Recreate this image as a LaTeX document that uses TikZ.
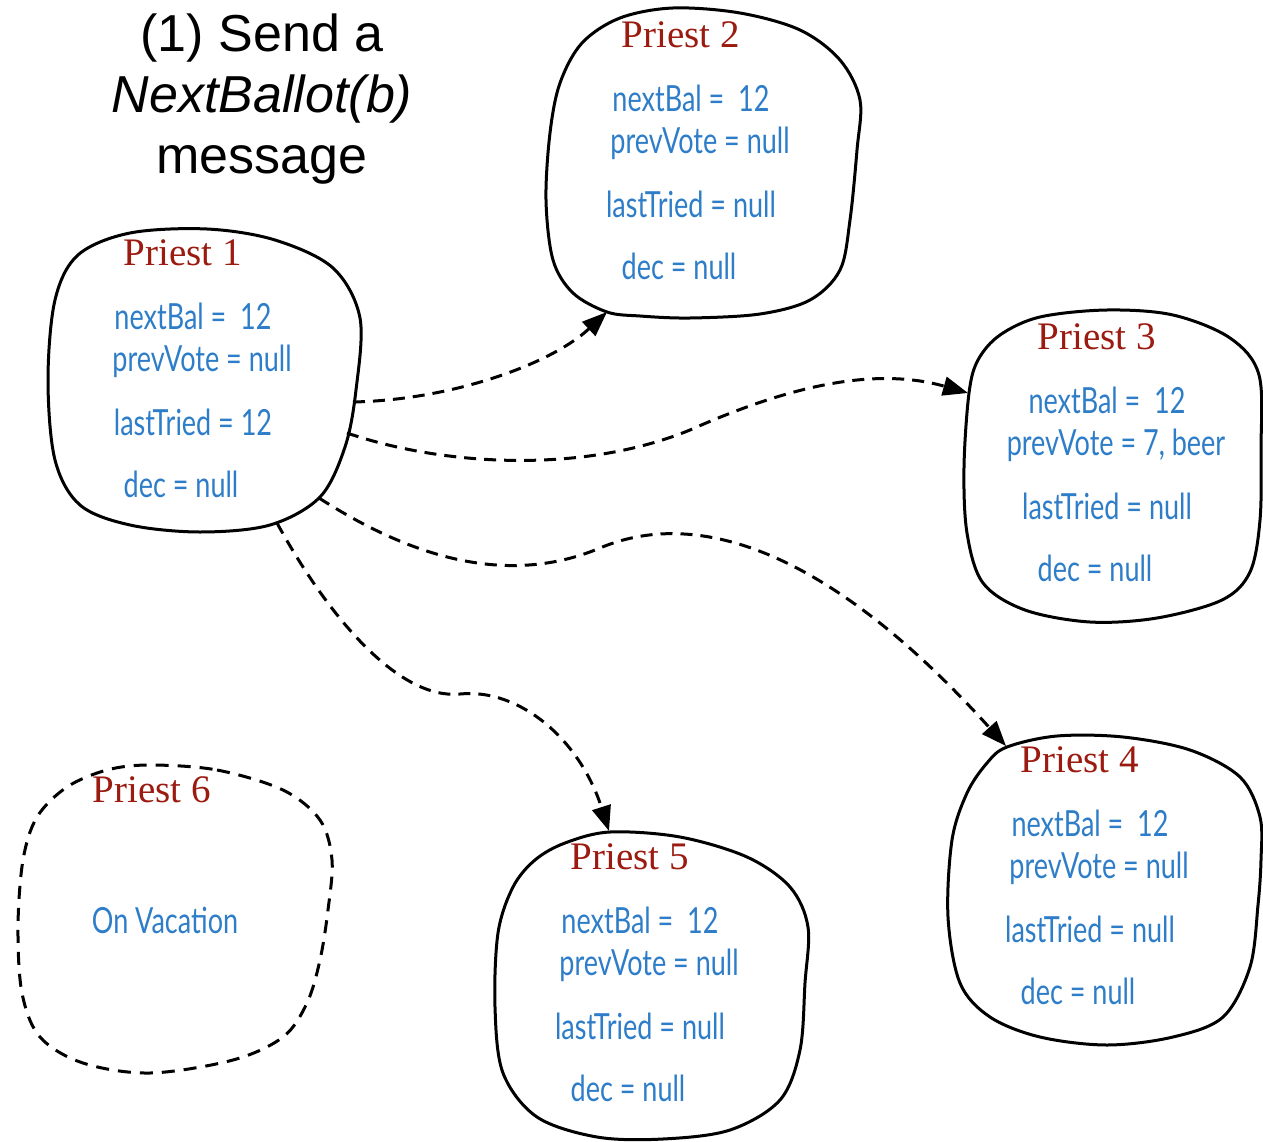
\documentclass[tikz,border=0pt]{standalone}
\usepackage{fontspec}
\usetikzlibrary{arrows.meta}
\newfontfamily\titlefont{Liberation Sans}
\newfontfamily\namefont{Liberation Serif}
\newfontfamily\notefont[FakeStretch=0.75]{Lato}
\definecolor{namered}{RGB}{155,27,16}
\definecolor{noteblue}{RGB}{46,125,200}

\tikzset{
  cardbox/.style={draw=none, minimum width=300pt, minimum height=290pt, inner sep=0pt},
  cardtitle/.style={text=namered, font=\namefont\fontsize{39}{44}\selectfont, inner sep=0pt},
  cardtext/.style={text=noteblue, font=\notefont\fontsize{36}{40}\selectfont, inner sep=0pt},
  blobline/.style={draw=black, line width=3pt, line join=round},
  awayline/.style={blobline, dash pattern=on 13pt off 9pt},
  msg/.style={draw=black, line width=3pt, dash pattern=on 12pt off 8pt,
    -{Triangle[length=25pt,width=19pt]}},
}

% one priest: name, centre, title, four ledger lines
\newcommand{\priestcard}[7]{%
  \node[cardbox] (#1) at (#2) {};
  \begin{scope}[shift={(#2)}]
    \node[cardtitle] (#1-t) at (-22,-128) {#3};
    \node[cardtext] (#1-a) at (-12,-65) {#4};
    \node[cardtext] (#1-b) at (-3,-20) {#5};
    \node[cardtext] (#1-c) at (-12,41) {#6};
    \node[cardtext] (#1-d) at (-24,103) {#7};
  \end{scope}}

\begin{document}
\begin{tikzpicture}[x=1pt,y=-1pt]
\useasboundingbox (0,0) rectangle (1263,1142);
\fill[white] (0,0) rectangle (1263,1142);

% heading
\node[font=\titlefont\fontsize{52}{61}\selectfont, align=center, inner sep=0pt] (head) at (262,99)
  {(1) Send a\\\textit{NextBallot(b)}\\message};

% outlines of the priests
\draw[blobline] plot[smooth cycle, tension=0.55] coordinates {
  (207,229) (275,240) (333,268) (360,318) (356,390) (345,447) (320,497) (270,525)
  (200,532) (130,525) (80,505) (55,460) (48,380) (55,300) (78,255) (130,233)};
\draw[blobline] plot[smooth cycle, tension=0.55] coordinates {
  (673,8) (740,13) (800,30) (840,60) (860,100) (857,150) (850,220) (840,270)
  (810,300) (760,314) (690,318) (640,316) (607,312) (573,293) (553,260) (546,200)
  (550,133) (560,83) (582,43) (620,18)};
\draw[blobline] plot[smooth cycle, tension=0.55] coordinates {
  (1107,310) (1173,315) (1230,338) (1259,375) (1261,450) (1260,520) (1250,572)
  (1222,600) (1157,618) (1090,622) (1025,610) (983,583) (967,533) (964,467)
  (969,393) (978,360) (1000,335) (1040,317)};
\draw[blobline] plot[smooth cycle, tension=0.55] coordinates {
  (1057,736) (1123,737) (1190,750) (1240,777) (1260,817) (1261,860) (1258,905)
  (1250,967) (1223,1017) (1173,1037) (1107,1045) (1040,1037) (990,1017) (960,983)
  (948,917) (952,840) (967,793) (987,763) (1007,747)};
\draw[blobline] plot[smooth cycle, tension=0.55] coordinates {
  (610,832) (680,837) (747,857) (790,887) (808,927) (805,983) (800,1050) (780,1100)
  (730,1130) (663,1139) (597,1137) (537,1117) (503,1073) (495,1007) (498,933)
  (513,887) (535,860) (565,843)};
\draw[awayline] plot[smooth cycle, tension=0.55] coordinates {
  (150,765) (217,770) (283,790) (320,820) (332,860) (328,910) (320,960) (307,1003)
  (283,1037) (233,1060) (150,1073) (83,1063) (40,1037) (22,993) (18,927) (23,860)
  (37,817) (67,787) (107,770)};

% contents
\priestcard{p1}{205,381}{Priest 1}{nextBal =\ \ 12}{prevVote = null}{lastTried = 12}{dec = null}
\priestcard{p2}{703,163}{Priest 2}{nextBal =\ \ 12}{prevVote = null}{lastTried = null}{dec = null}
\priestcard{p3}{1119,465}{Priest 3}{nextBal =\ \ 12}{prevVote = 7, beer}{lastTried = null}{dec = null}
\priestcard{p4}{1102,888}{Priest 4}{nextBal =\ \ 12}{prevVote = null}{lastTried = null}{dec = null}
\priestcard{p5}{652,985}{Priest 5}{nextBal =\ \ 12}{prevVote = null}{lastTried = null}{dec = null}
\node[cardbox] (p6) at (175,920) {};
\node[cardtitle] (p6-t) at (152,790) {Priest 6};
\node[cardtext] (p6-a) at (165,920) {On Vacation};

% ports on the outlines
\coordinate (p1-o1) at (353,402);
\coordinate (p1-o2) at (347,433);
\coordinate (p1-o3) at (319,498);
\coordinate (p1-o4) at (277,523);
\coordinate (p2-in) at (607,312);
\coordinate (p3-in) at (968,393);
\coordinate (p4-in) at (1006,746);
\coordinate (p5-in) at (609,831);

% NextBallot messages
\draw[msg] (p1-o1) .. controls (450,400) and (550,365) .. (p2-in);
\draw[msg] (p1-o2) .. controls (440,465) and (580,475) .. (690,430)
                   .. controls (780,390) and (870,365) .. (p3-in);
\draw[msg] (p1-o3) .. controls (400,550) and (500,590) .. (600,548)
                   .. controls (690,510) and (820,540) .. (p4-in);
\draw[msg] (p1-o4) .. controls (330,620) and (400,700) .. (460,694)
                   .. controls (520,688) and (580,740) .. (p5-in);
\end{tikzpicture}
\end{document}
